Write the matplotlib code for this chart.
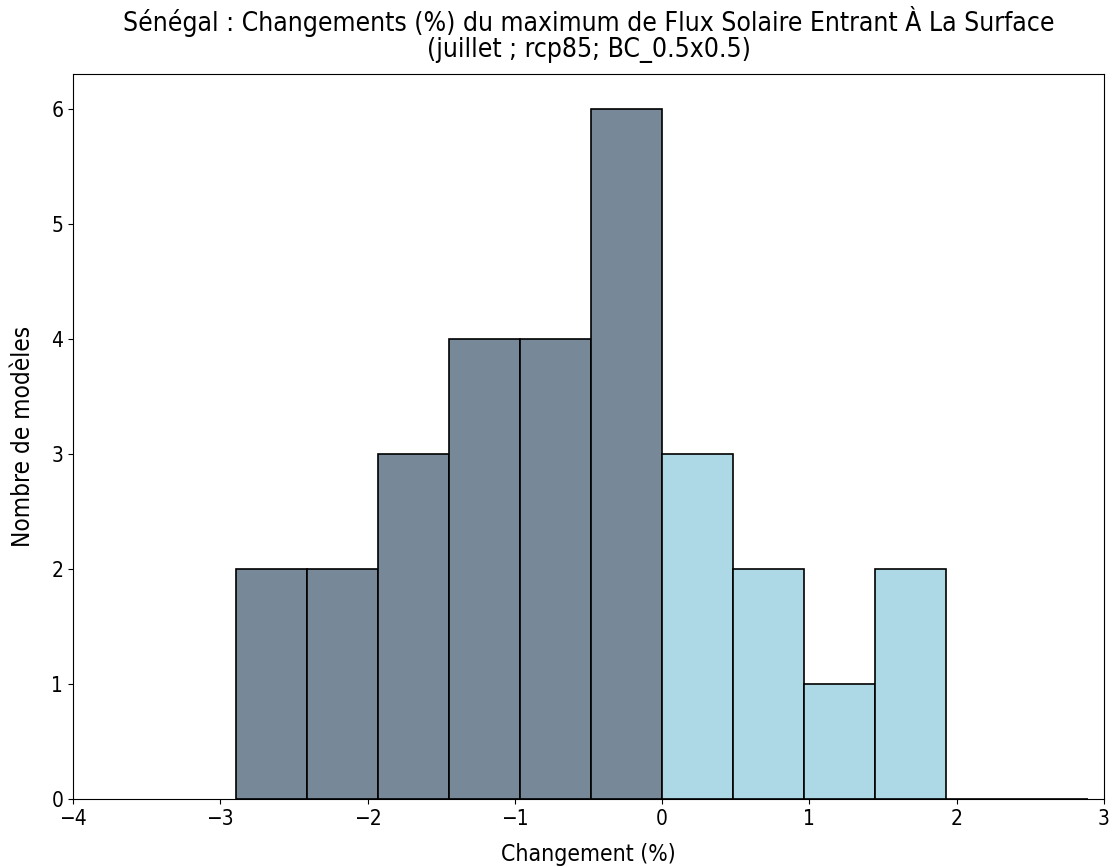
import matplotlib
matplotlib.use("Agg")
import matplotlib.pyplot as plt
import numpy as np

# =======================
# Données
# =======================
bords = np.linspace(-2.895, 2.895, 13)      # bords des classes
comptes = [2, 2, 3, 4, 4, 6, 3, 2, 1, 2, 0, 0]  # nombre de modèles

titre = ("Sénégal : Changements (%) du maximum de Flux Solaire Entrant À La Surface\n"
         "(juillet ; rcp85; BC_0.5x0.5)")

centres = (bords[:-1] + bords[1:]) / 2
couleurs = ["lightslategray" if c < 0 else "lightblue" for c in centres]

plt.rcParams["font.size"] = 15
plt.rcParams["font.stretch"] = "condensed"

fig = plt.figure(figsize=(11.15, 8.67), dpi=100)
ax = fig.add_axes([0.0655, 0.0784, 0.9245, 0.8362])

n, b, patches = ax.hist(centres, bins=bords, weights=comptes,
                        edgecolor="black", linewidth=1.2)
for p, c in zip(patches, couleurs):
    p.set_facecolor(c)

ax.set_xlim(-4, 3)
ax.set_ylim(0, 6.3)
ax.set_xlabel("Changement (%)", fontsize=16.5, labelpad=10)
ax.set_ylabel("Nombre de modèles", fontsize=17.5, labelpad=12)
ax.set_title(titre, fontsize=19, pad=12, linespacing=1.0)

fig.savefig("out.png", dpi=100)
